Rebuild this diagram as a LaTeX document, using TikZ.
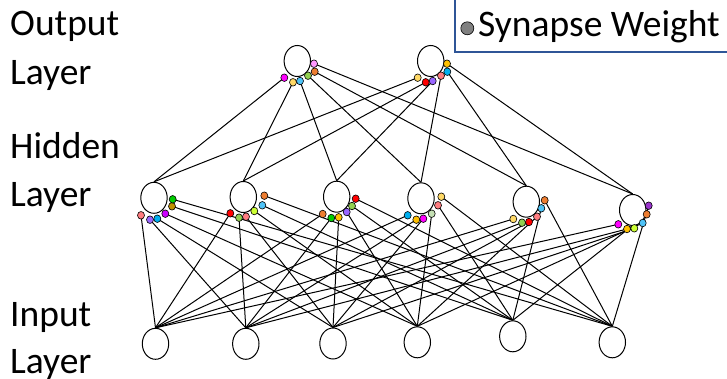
\documentclass[tikz,border=0pt]{standalone}
\usepackage{fontspec}
\setmainfont{Carlito}
\usetikzlibrary{shapes.geometric}

\pgfdeclarelayer{background}
\pgfsetlayers{background,main}

% weight colours
\definecolor{wSalmon}{HTML}{FF7C80}
\definecolor{wPurple}{HTML}{9966FF}
\definecolor{wBlue}{HTML}{00B0F0}
\definecolor{wViolet}{HTML}{CC00FF}
\definecolor{wDarkGold}{HTML}{BF9000}
\definecolor{wGreen}{HTML}{00CC00}
\definecolor{wRed}{HTML}{FF0000}
\definecolor{wLightGreen}{HTML}{92D050}
\definecolor{wLime}{HTML}{CCFF33}
\definecolor{wLightBlue}{HTML}{4FC3F7}
\definecolor{wOrange}{HTML}{ED7D31}
\definecolor{wGold}{HTML}{FFC000}
\definecolor{wMagenta}{HTML}{FF00FF}
\definecolor{wPaleGreen}{HTML}{C5E0B4}
\definecolor{wLightYellow}{HTML}{FFD966}
\definecolor{wDeepPurple}{HTML}{9933CC}
\definecolor{wPink}{HTML}{FF99FF}
\definecolor{legendBlue}{HTML}{2F5597}
\definecolor{legendGrey}{HTML}{808080}

\tikzset{
  neuron/.style={ellipse, draw=black, fill=white, line width=1pt,
    minimum width=26.4pt, minimum height=31pt, inner sep=0pt},
  weight/.style={ellipse, draw=black, line width=0.6pt, fill=#1,
    minimum width=7pt, minimum height=7.6pt, inner sep=0pt},
  synapse/.style={draw=black, line width=1pt},
  layerlabel/.style={anchor=base west, inner sep=0pt,
    font=\fontsize{37.5}{45}\selectfont},
}

\begin{document}
\begin{tikzpicture}[x=1pt, y=-1pt]
\useasboundingbox (0,0) rectangle (727,379);
\clip (0,0) rectangle (727,379);

% layer labels
\node[layerlabel] (lblOutA) at (10,35.7) {Output};
\node[layerlabel] (lblOutB) at (10,84.3) {Layer};
\node[layerlabel] (lblHidA) at (10,158.3) {Hidden};
\node[layerlabel] (lblHidB) at (10,206.5) {Layer};
\node[layerlabel] (lblInA) at (10,326) {Input};
\node[layerlabel] (lblInB) at (10,373.3) {Layer};

% legend
\draw[legendBlue, line width=2pt] (454.5,-5) rectangle (740,51.7);
\node[circle, draw=black, line width=0.6pt, fill=legendGrey,
  minimum size=13pt, inner sep=0pt] (legDot) at (467.3,28.3) {};
\node[layerlabel] (legText) at (478,37) {Synapse Weight};

% neurons
\foreach \n/\pos in {
  i1/{155.5,343.8}, i2/{245.8,343.8}, i3/{333,343.5},
  i4/{417.3,342.3}, i5/{512.8,336.3}, i6/{612.3,342.3},
  h1/{154,197.8}, h2/{243.3,197}, h3/{336.7,196.7},
  h4/{421,198.3}, h5/{526.3,201.7}, h6/{632.7,210},
  o1/{297.3,61}, o2/{430.7,61}}
  \node[neuron] (\n) at (\pos) {};

% weight dots: name / position / colour
\foreach \nm/\pos/\col in {
  h1d1/{141,215.3}/wSalmon, h1d2/{150,219.7}/wPurple, h1d3/{157.3,218.7}/wBlue,
  h1d4/{165.3,213.7}/wViolet, h1d5/{172,206.3}/wDarkGold, h1d6/{172.7,199.3}/wGreen,
  h2d1/{230.3,213.3}/wRed, h2d2/{239,217.7}/wLightGreen, h2d3/{246,216.7}/wSalmon,
  h2d4/{254.3,211}/wLime, h2d5/{262.3,205.3}/wLightBlue, h2d6/{264.3,195.7}/wOrange,
  h3d1/{322.7,214}/wOrange, h3d2/{331.3,218}/wGreen, h3d3/{338.7,217.3}/wGold,
  h3d4/{346.7,212}/wPurple, h3d5/{352,206}/wLightGreen, h3d6/{355.7,198.7}/wRed,
  h4d1/{407.7,215.3}/wBlue, h4d2/{416.3,219.7}/wGold, h4d3/{423.3,218.7}/wMagenta,
  h4d4/{431.7,213.7}/wPaleGreen, h4d5/{438,205.3}/wSalmon, h4d6/{441.3,196.7}/wLightYellow,
  h5d1/{513.3,219}/wLightYellow, h5d2/{522,222.7}/wLightGreen, h5d3/{529,222}/wRed,
  h5d4/{537,216.7}/wSalmon, h5d5/{541.3,208.3}/wLightBlue, h5d6/{544.7,200.3}/wOrange,
  h6d1/{618.3,224.3}/wMagenta, h6d2/{627,229}/wGold, h6d3/{634.3,228.3}/wLime,
  h6d4/{642.7,223}/wLightBlue, h6d5/{646.7,214.3}/wOrange, h6d6/{648.7,205.7}/wDeepPurple,
  o1d1/{284.3,77.7}/wMagenta, o1d2/{293,82.3}/wLightYellow, o1d3/{300,81}/wLightBlue,
  o1d4/{308,75.7}/wLightGreen, o1d5/{314.7,71.7}/wOrange, o1d6/{314,63.7}/wPink,
  o2d1/{417.7,77.7}/wLightYellow, o2d2/{425.7,82.3}/wRed, o2d3/{432.7,81}/wPurple,
  o2d4/{441,75.7}/wSalmon, o2d5/{447.3,71.7}/wBlue, o2d6/{447,63.7}/wGold}
  \node[weight=\col] (\nm) at (\pos) {};

% synapses, kept behind the dots
\begin{pgfonlayer}{background}
  % input -> hidden weight dots
  \foreach \h in {1,...,6}
    \foreach \i in {1,...,6}
      \draw[synapse] (h\h d\i.center) -- (i\i.north);
  % hidden -> output weight dots
  \foreach \o in {1,2}
    \foreach \h in {1,...,6}
      \draw[synapse] (o\o d\h.center) -- (h\h.north);
\end{pgfonlayer}

\end{tikzpicture}
\end{document}
